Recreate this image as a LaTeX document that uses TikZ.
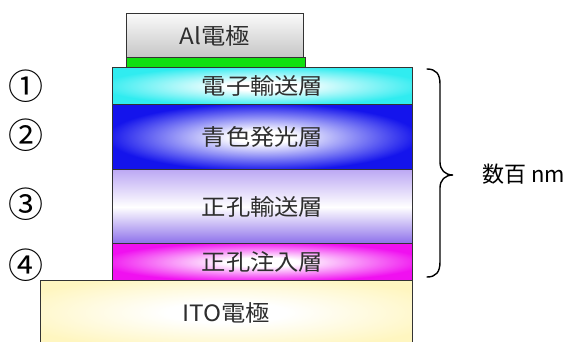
\documentclass[tikz,border=0pt]{standalone}
\usepackage{fontspec}
\newfontfamily\jp[FakeStretch=1.08]{Noto Sans CJK JP}
\newfontfamily\jpn{Noto Sans CJK JP}
\definecolor{etlc}{HTML}{30ECF0}
\definecolor{emlc}{HTML}{1414EC}
\definecolor{htltop}{HTML}{BCA8F4}
\definecolor{htlbot}{HTML}{8A6CEA}
\definecolor{hilc}{HTML}{F010F0}
\definecolor{itoc}{HTML}{FFF6C0}
\definecolor{greenc}{HTML}{10E010}
\pgfdeclareradialshading{etlsh}{\pgfpoint{0bp}{0bp}}{color(0bp)=(white); color(6bp)=(white); color(27bp)=(etlc); color(50bp)=(etlc)}
\pgfdeclareradialshading{emlsh}{\pgfpoint{0bp}{0bp}}{color(0bp)=(white); color(5bp)=(white); color(26bp)=(emlc); color(50bp)=(emlc)}
\pgfdeclareradialshading{hilsh}{\pgfpoint{0bp}{0bp}}{color(0bp)=(white); color(6bp)=(white); color(27bp)=(hilc); color(50bp)=(hilc)}
\pgfdeclareradialshading{itosh}{\pgfpoint{0bp}{0bp}}{color(0bp)=(white); color(8bp)=(white); color(30bp)=(itoc); color(50bp)=(itoc)}
\begin{document}
\begin{tikzpicture}[x=1pt,y=-1pt,
  layer/.style={draw=black!80, line width=0.9pt, anchor=north west, inner sep=0pt,
    font=\jp\fontsize{22.5}{22.5}\selectfont, text=black!82},
  num/.style={font=\jpn\fontsize{35}{35}\selectfont, inner sep=0pt},
  bracestyle/.style={line width=1.4pt, line cap=round}]
\useasboundingbox (0,0) rectangle (579,341);
\clip (0,0) rectangle (579,341);
% layers
\node[layer, minimum width=372pt, minimum height=64pt, shading=itosh] (ito) at (40,280) {ITO電極};
\node[layer, minimum width=177pt, minimum height=44pt, top color=gray!4, bottom color=gray!45] (al) at (126,13) {Al電極};
\node[layer, minimum width=179pt, minimum height=10pt, fill=greenc] (gr) at (126,57) {};
\node[layer, minimum width=300pt, minimum height=37pt, shading=etlsh] (etl) at (112,67) {電子輸送層};
\node[layer, minimum width=300pt, minimum height=65pt, shading=emlsh] (eml) at (112,104) {青色発光層};
\node[layer, minimum width=300pt, minimum height=75pt, top color=htltop, bottom color=htlbot, middle color=white] (htl) at (112,169) {正孔輸送層};
\node[layer, minimum width=300pt, minimum height=37pt, shading=hilsh] (hil) at (112,243) {正孔注入層};
% circled numbers
\node[num] (n1) at (26,86) {①};
\node[num] (n2) at (26,135) {②};
\node[num] (n3) at (26,204) {③};
\node[num] (n4) at (26,265) {④};
% brace
\coordinate (bt) at (427,69);
\coordinate (tip) at (453,175);
\coordinate (bb) at (427,277);
\draw[bracestyle] (bt) .. controls (436,69) and (440,74) .. (440,84) -- (440,162)
  .. controls (440,170) and (445,175) .. (tip)
  .. controls (445,175) and (440,180) .. (440,188) -- (440,262)
  .. controls (440,272) and (436,277) .. (bb);
\node[anchor=west, font=\jpn\fontsize{22}{22}\selectfont, inner sep=0pt] (lbl) at (482,174) {数百 nm};
\end{tikzpicture}
\end{document}
